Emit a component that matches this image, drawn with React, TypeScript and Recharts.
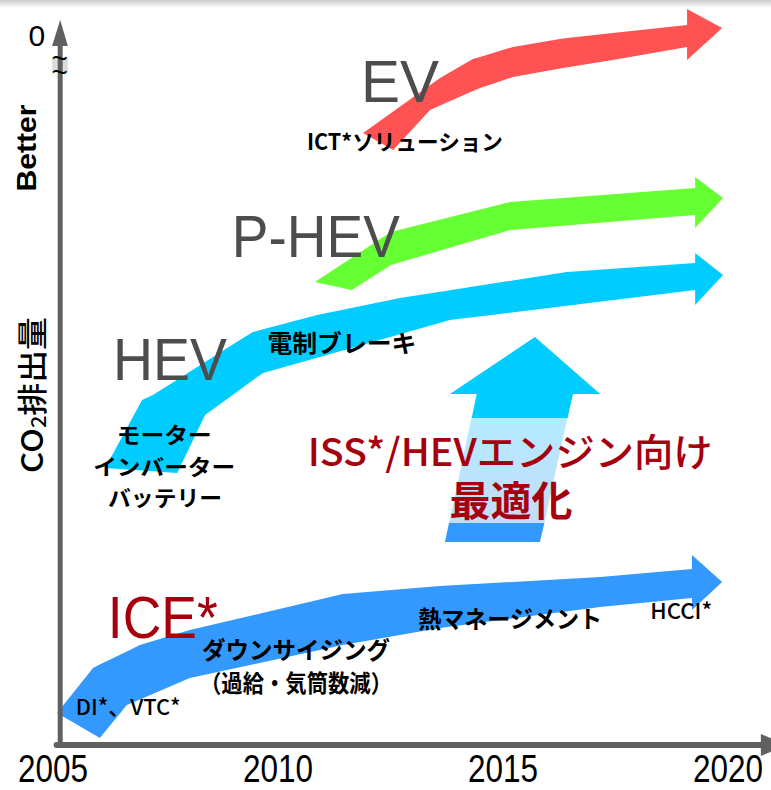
import React from "react";
import {
  ComposedChart,
  Area,
  XAxis,
  YAxis,
  ReferenceLine,
  ReferenceDot,
  ReferenceArea,
} from "recharts";

// x: model year, y: CO2 level (arbitrary units, 0 = worst at the bottom axis)
const X_MIN = 2005 - 53 / 45;
const X_MAX = 2005 + 718 / 45;
const Y_MIN = -4.5;
const Y_MAX = 74.5;

const YEARS = [2005, 2010, 2015, 2020];

// ICE* arrow (lower / upper edge of the band, arrow head at the end)
const iceX = [2005.09, 2005.89, 2006.04, 2006.64, 2006.93, 2008.04, 2011.44, 2013.6, 2017.16, 2019.2, 2019.2, 2019.87];
const iceLow = [3.2, 1.1, 0.7, 4.0, 4.56, 6.7, 10.0, 11.7, 13.8, 14.7, 13.5, 16.3];
const iceHigh = [3.2, 7.7, 8.04, 9.36, 10.0, 11.5, 15.1, 15.9, 16.8, 17.6, 19.0, 16.3];

// HEV arrow
const hevX = [2006.16, 2006.98, 2007.22, 2007.76, 2008.38, 2008.87, 2009.44, 2009.67, 2010.87, 2012.71, 2013.82, 2016.42, 2019.27, 2019.27, 2019.89];
const hevLow = [27.7, 27.44, 27.37, 27.2, 33.0, 34.59, 36.48, 37.2, 38.73, 41.08, 42.5, 43.93, 45.5, 44.0, 47.0];
const hevHigh = [27.7, 34.5, 35.0, 36.52, 38.3, 39.7, 41.3, 41.57, 43.0, 44.7, 45.48, 47.3, 48.2, 49.2, 47.0];

// P-HEV arrow
const phevX = [2010.82, 2011.64, 2012.51, 2015.16, 2019.27, 2019.27, 2019.89];
const phevLow = [46.3, 45.5, 48.0, 51.5, 53.0, 51.7, 54.7];
const phevHigh = [46.3, 48.73, 51.3, 54.3, 55.7, 56.8, 54.7];

// EV arrow
const evX = [2011.89, 2012.56, 2013.38, 2013.6, 2014.33, 2014.49, 2015.22, 2016.33, 2017.44, 2019.09, 2019.09, 2019.87];
const evLow = [61.2, 59.5, 63.5, 63.94, 65.39, 65.7, 66.8, 67.7, 68.5, 69.8, 68.5, 71.7];
const evHigh = [61.2, 63.34, 65.99, 66.7, 68.6, 68.81, 69.8, 70.65, 71.2, 72.0, 73.6, 71.7];

// ISS*/HEV engine upward arrow: head + three colour bands of the shaft
const upHeadX = [2013.82, 2015.71, 2017.16];
const upHeadLow = [35.1, 35.1, 35.1];
const upHeadHigh = [35.1, 40.8, 35.1];
const upTopX = [2014.3, 2014.42, 2016.43, 2016.56];
const upTopLow = [32.6, 32.6, 32.6, 35.2];
const upTopHigh = [32.6, 35.2, 35.2, 35.2];
const upMidX = [2013.8, 2014.3, 2015.92, 2016.43];
const upMidLow = [22.2, 22.2, 22.2, 32.7];
const upMidHigh = [22.2, 32.7, 32.7, 32.7];
const upLowX = [2013.71, 2013.8, 2015.82, 2015.92];
const upLowLow = [20.3, 20.3, 20.3, 22.2];
const upLowHigh = [20.3, 22.2, 22.2, 22.2];

// axis arrow heads and the axis break box
const yHeadX = [2004.98, 2005.16, 2005.33];
const yHeadLow = [69.9, 69.9, 69.9];
const yHeadHigh = [69.9, 72.5, 69.9];
const xHeadX = [2020.73, 2021.33];
const xHeadLow = [-1.1, 0];
const xHeadHigh = [1.1, 0];
const breakX = [2004.98, 2005.33];
const breakLow = [67.3, 67.3];
const breakHigh = [68.7, 68.7];

const band = (xs: number[], lo: number[], hi: number[]) =>
  xs.map((x, i) => ({ x, r: [lo[i], hi[i]] }));

const LATIN = "'Liberation Sans', Arial, sans-serif";
const NARROW = "'Liberation Sans Narrow', 'Liberation Sans', sans-serif";
const JP = "'Noto Sans CJK JP', sans-serif";
const GRAY = "#4d4d4d";
const RED = "#a6000f";
const AXIS = "#606060";

type Note = {
  text: string;
  x: number;
  y: number;
  size: number;
  color: string;
  weight?: number;
  font?: string;
  width?: number;
  mid?: boolean;
  turn?: boolean;
};

const yearNotes: Note[] = YEARS.map((yr) => ({
  text: String(yr),
  x: yr,
  y: -3.7,
  size: 39,
  color: "#000",
  font: NARROW,
  width: 70,
}));

const notes: Note[] = [
  { text: "0", x: 2004.64, y: 71.0, size: 30, color: "#000", font: LATIN, mid: true },
  { text: "Better", x: 2004.42, y: 59.7, size: 28, color: "#000", font: LATIN, weight: 700, width: 87, mid: true, turn: true },
  { text: "EV", x: 2012.71, y: 64.3, size: 60, color: GRAY, font: LATIN, width: 78 },
  { text: "ICT*ソリューション", x: 2012.82, y: 60.5, size: 22, color: "#000", weight: 700, width: 196, mid: true },
  { text: "P-HEV", x: 2010.84, y: 48.8, size: 60, color: GRAY, font: LATIN, width: 168 },
  { text: "HEV", x: 2007.6, y: 36.5, size: 60, color: GRAY, font: LATIN, width: 114 },
  { text: "電制ブレーキ", x: 2011.42, y: 40.4, size: 24, color: "#000", weight: 700, width: 149, mid: true },
  { text: "モーター", x: 2007.47, y: 31.2, size: 22, color: "#000", weight: 700, width: 95, mid: true },
  { text: "インバーター", x: 2007.47, y: 28.0, size: 22, color: "#000", weight: 700, width: 142, mid: true },
  { text: "バッテリー", x: 2007.49, y: 24.9, size: 22, color: "#000", weight: 700, width: 114, mid: true },
  { text: "ISS*/HEVエンジン向け", x: 2015.16, y: 29.6, size: 38, color: RED, weight: 500, width: 405, mid: true },
  { text: "最適化", x: 2015.18, y: 24.7, size: 41, color: RED, weight: 700, width: 123, mid: true },
  { text: "ICE*", x: 2007.44, y: 10.7, size: 60, color: RED, font: LATIN, width: 110 },
  { text: "ダウンサイジング", x: 2010.4, y: 9.7, size: 24, color: "#000", weight: 700, width: 188, mid: true },
  { text: "（過給・気筒数減）", x: 2010.4, y: 6.4, size: 24, color: "#000", weight: 700, width: 192, mid: true },
  { text: "DI*、VTC*", x: 2006.67, y: 4.0, size: 22, color: "#000", weight: 500, width: 105, mid: true },
  { text: "熱マネージメント", x: 2015.16, y: 12.8, size: 24, color: "#000", weight: 700, width: 184, mid: true },
  { text: "HCCI*", x: 2018.96, y: 13.6, size: 22, color: "#000", weight: 500, width: 62, mid: true },
];

function noteShape(n: Note) {
  return (p: { cx?: number; cy?: number }) => {
    const cx = p.cx ?? 0;
    const cy = p.cy ?? 0;
    return (
      <text
        x={cx}
        y={cy}
        textAnchor="middle"
        dominantBaseline={n.mid ? "central" : "alphabetic"}
        fontSize={n.size}
        fill={n.color}
        fontWeight={n.weight ?? 400}
        fontFamily={n.font ?? JP}
        textLength={n.width}
        lengthAdjust={n.width ? "spacingAndGlyphs" : undefined}
        transform={n.turn ? `rotate(-90 ${cx} ${cy})` : undefined}
      >
        {n.text}
      </text>
    );
  };
}

// the two wavy strokes of the axis break, one text with two lines
function breakMark(p: { cx?: number; cy?: number }) {
  const cx = p.cx ?? 0;
  const cy = p.cy ?? 0;
  return (
    <text x={cx} y={cy} textAnchor="middle" fontSize={28} fill="#000" fontFamily={LATIN}>
      <tspan x={cx}>~</tspan>
      <tspan x={cx} dy={14}>~</tspan>
    </text>
  );
}

// rotated axis title with a subscript 2
function co2Title(p: { cx?: number; cy?: number }) {
  const cx = p.cx ?? 0;
  const cy = p.cy ?? 0;
  return (
    <text
      x={cx}
      y={cy}
      textAnchor="middle"
      dominantBaseline="central"
      fontSize={30}
      fill="#000"
      fontWeight={500}
      fontFamily={JP}
      textLength={156}
      lengthAdjust="spacingAndGlyphs"
      transform={`rotate(-90 ${cx} ${cy})`}
    >
      CO
      <tspan dy={7} fontSize={20}>2</tspan>
      <tspan dy={-7}>排出量</tspan>
    </text>
  );
}

export default function App() {
  const areaProps = {
    dataKey: "r",
    type: "linear" as const,
    stroke: "none",
    fillOpacity: 1,
    dot: false,
    activeDot: false,
    isAnimationActive: false,
  };
  return (
    <div style={{ position: "absolute", left: 0, top: 0, width: 771, height: 790, background: "#fff" }}>
      <ComposedChart width={771} height={790} margin={{ top: 0, right: 0, bottom: 0, left: 0 }}>
        <defs>
          <linearGradient id="issFade" x1="0" y1="0" x2="0" y2="1">
            <stop offset="0%" stopColor="#b3ebff" />
            <stop offset="100%" stopColor="#c4dcfa" />
          </linearGradient>
          <linearGradient id="topShade" x1="0" y1="0" x2="0" y2="1">
            <stop offset="0%" stopColor="#cccccc" />
            <stop offset="100%" stopColor="#ffffff" />
          </linearGradient>
        </defs>
        <XAxis type="number" dataKey="x" domain={[X_MIN, X_MAX]} allowDataOverflow scale="linear" hide />
        <YAxis type="number" domain={[Y_MIN, Y_MAX]} allowDataOverflow scale="linear" hide />

        <ReferenceArea x1={X_MIN} x2={X_MAX} y1={73.7} y2={Y_MAX} fill="url(#topShade)" fillOpacity={1} stroke="none" />

        <Area {...areaProps} data={band(evX, evLow, evHigh)} fill="#ff5252" />
        <Area {...areaProps} data={band(phevX, phevLow, phevHigh)} fill="#66ff33" />
        <Area {...areaProps} data={band(hevX, hevLow, hevHigh)} fill="#00ccff" />
        <Area {...areaProps} data={band(iceX, iceLow, iceHigh)} fill="#3399ff" />
        <Area {...areaProps} data={band(upHeadX, upHeadLow, upHeadHigh)} fill="#00ccff" />
        <Area {...areaProps} data={band(upTopX, upTopLow, upTopHigh)} fill="#00ccff" />
        <Area {...areaProps} data={band(upMidX, upMidLow, upMidHigh)} fill="url(#issFade)" />
        <Area {...areaProps} data={band(upLowX, upLowLow, upLowHigh)} fill="#3399ff" />

        <ReferenceLine
          segment={[{ x: 2005.16, y: -0.3 }, { x: 2005.16, y: 70.1 }]}
          stroke={AXIS}
          strokeWidth={5}
        />
        <ReferenceLine
          segment={[{ x: 2005.08, y: 0 }, { x: 2020.8, y: 0 }]}
          stroke={AXIS}
          strokeWidth={6}
          strokeLinecap="round"
        />
        <Area {...areaProps} data={band(yHeadX, yHeadLow, yHeadHigh)} fill={AXIS} />
        <Area {...areaProps} data={band(xHeadX, xHeadLow, xHeadHigh)} fill={AXIS} />
        <Area {...areaProps} data={band(breakX, breakLow, breakHigh)} fill="#dcdcdc" />

        {[...yearNotes, ...notes].map((n, i) => (
          <ReferenceDot key={i} x={n.x} y={n.y} r={1} shape={noteShape(n)} />
        ))}
        <ReferenceDot x={2005.15} y={67.7} r={1} shape={breakMark} />
        <ReferenceDot x={2004.49} y={35.0} r={1} shape={co2Title} />
      </ComposedChart>
    </div>
  );
}
